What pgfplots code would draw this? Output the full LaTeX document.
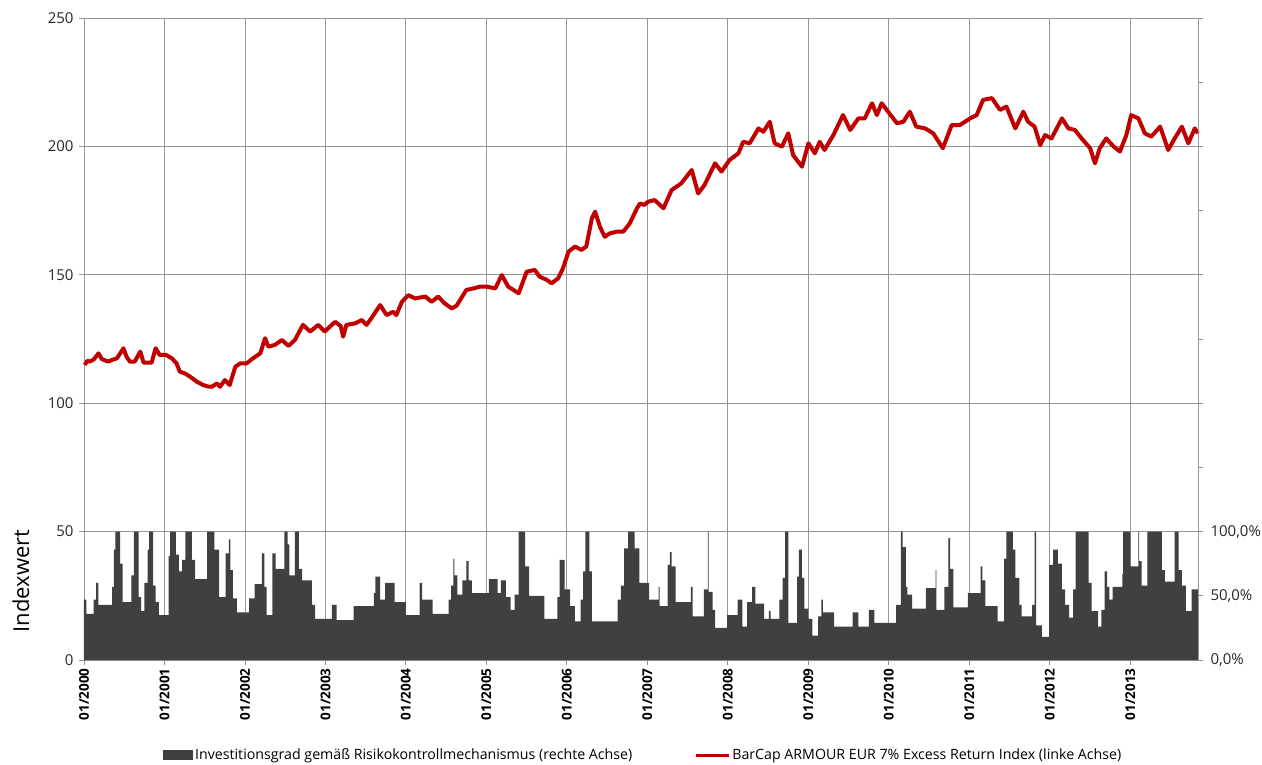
\documentclass[border=0pt]{standalone}
\usepackage{fontspec}
\setmainfont{Open Sans}
\usepackage{pgfplots}
\pgfplotsset{compat=1.18}
\definecolor{gridc}{RGB}{150,150,150}
\definecolor{areagray}{RGB}{64,64,64}
\definecolor{linered}{RGB}{192,0,0}
\begin{document}
\begin{tikzpicture}
\begin{axis}[
  at={(0,0)}, anchor=south west,
  width=1114pt, height=642pt, scale only axis, clip=false,
  xmin=2000, xmax=2013.84, ymin=0, ymax=250,
  xtick={2000,...,2013},
  xticklabels={01/2000,01/2001,01/2002,01/2003,01/2004,01/2005,01/2006,01/2007,01/2008,01/2009,01/2010,01/2011,01/2012,01/2013},
  ytick={0,50,100,150,200,250},
  yticklabels={0,50,100,150,200,250},
  xtick pos=bottom, ytick pos=left,
  grid=major, major grid style={gridc, line width=0.9pt},
  axis line style={gridc, line width=0.9pt},
  tick align=outside, major tick length=5pt,
  tick style={gridc, line width=0.9pt},
  xticklabel style={rotate=90, anchor=east, font=\bfseries\fontsize{13.5}{15}\selectfont, text=black},
  yticklabel style={font=\fontsize{15}{17}\selectfont, text=black!85, xshift=-2pt},
]
\addplot[linered, line width=4pt, line join=round] coordinates {
(2000.01,114.9)(2000.04,116.5)(2000.07,116.2)(2000.12,117.0)(2000.18,119.4)(2000.22,117.2)
(2000.30,116.2)(2000.36,117.0)(2000.41,117.5)(2000.49,121.4)(2000.53,118.0)(2000.57,116.2)
(2000.63,116.2)(2000.70,120.1)(2000.74,115.8)(2000.84,115.8)(2000.89,121.4)(2000.94,118.8)
(2001.02,118.8)(2001.09,117.5)(2001.15,115.5)(2001.19,112.3)(2001.26,111.5)(2001.32,110.3)
(2001.40,108.4)(2001.48,107.1)(2001.54,106.5)(2001.59,106.4)(2001.65,107.7)(2001.69,106.4)
(2001.75,109.0)(2001.81,107.1)(2001.88,114.2)(2001.94,115.5)(2002.02,115.5)(2002.10,117.5)
(2002.19,119.4)(2002.25,125.3)(2002.29,122.0)(2002.37,122.7)(2002.46,124.6)(2002.54,122.3)
(2002.62,124.6)(2002.72,130.5)(2002.81,127.9)(2002.91,130.5)(2002.99,127.9)(2003.12,131.7)
(2003.19,130.0)(2003.22,125.9)(2003.26,130.5)(2003.37,131.1)(2003.45,132.4)(2003.51,130.5)
(2003.57,133.1)(2003.68,138.2)(2003.76,134.3)(2003.84,135.6)(2003.88,134.3)(2003.95,139.5)
(2004.03,142.1)(2004.11,140.8)(2004.24,141.5)(2004.32,139.5)(2004.40,141.5)(2004.48,138.9)
(2004.57,136.9)(2004.63,138.0)(2004.75,144.1)(2004.84,144.7)(2004.92,145.4)(2005.00,145.4)
(2005.11,144.7)(2005.19,149.9)(2005.27,145.4)(2005.40,142.8)(2005.50,151.2)(2005.60,151.9)
(2005.66,149.3)(2005.75,148.0)(2005.81,146.7)(2005.89,148.6)(2005.95,152.5)(2006.02,159.0)
(2006.10,161.0)(2006.18,159.7)(2006.24,161.0)(2006.31,172.0)(2006.35,174.6)(2006.41,168.7)
(2006.47,164.8)(2006.53,166.1)(2006.62,166.8)(2006.70,166.8)(2006.78,170.0)(2006.87,175.9)
(2006.91,177.8)(2006.96,177.2)(2007.01,178.5)(2007.09,179.1)(2007.20,175.9)(2007.30,183.0)
(2007.42,185.6)(2007.55,190.8)(2007.63,181.7)(2007.71,185.0)(2007.84,193.4)(2007.92,190.2)
(2008.02,194.7)(2008.13,197.3)(2008.19,201.8)(2008.27,201.2)(2008.38,207.0)(2008.44,205.7)
(2008.52,209.6)(2008.58,201.2)(2008.67,199.9)(2008.75,205.1)(2008.81,196.6)(2008.92,192.1)
(2009.00,201.2)(2009.08,197.3)(2009.14,201.8)(2009.20,198.6)(2009.31,204.4)(2009.43,212.2)
(2009.52,206.4)(2009.62,210.9)(2009.70,210.9)(2009.79,216.8)(2009.85,212.2)(2009.91,216.8)
(2009.99,213.5)(2010.10,209.0)(2010.18,209.6)(2010.26,213.5)(2010.34,207.7)(2010.45,207.0)
(2010.55,205.1)(2010.67,199.3)(2010.78,208.3)(2010.88,208.3)(2011.01,210.9)(2011.09,212.2)
(2011.17,218.1)(2011.28,218.8)(2011.38,214.2)(2011.46,215.5)(2011.57,207.0)(2011.67,213.5)
(2011.73,209.6)(2011.81,207.7)(2011.88,200.5)(2011.94,204.4)(2012.02,203.1)(2012.15,210.9)
(2012.23,207.0)(2012.31,206.4)(2012.41,202.5)(2012.50,199.3)(2012.56,193.4)(2012.62,199.3)
(2012.70,203.1)(2012.79,200.0)(2012.87,198.0)(2012.95,204.4)(2013.01,212.2)(2013.10,210.9)
(2013.18,205.1)(2013.26,203.8)(2013.37,207.7)(2013.47,198.6)(2013.55,203.1)(2013.64,207.7)
(2013.72,201.2)(2013.80,207.0)(2013.84,205.1)
};
\node[rotate=90, font=\fontsize{22}{25}\selectfont, text=black] at ([xshift=-63pt]rel axis cs:0,0.123) {Indexwert};
\end{axis}
\begin{axis}[
  at={(0,0)}, anchor=south west,
  width=1114pt, height=642pt, scale only axis,
  xmin=2000, xmax=2013.84, ymin=0, ymax=500,
  axis x line=none, axis y line*=right,
  ytick={0,50,...,500},
  yticklabels={{0,0\%},{50,0\%},{100,0\%},{},{},{},{},{},{},{},{}},
  axis line style={gridc, line width=0.9pt},
  tick align=outside, major tick length=5pt,
  tick style={gridc, line width=0.9pt},
  yticklabel style={font=\fontsize{15}{17}\selectfont, text=black!85, xshift=4pt},
  legend columns=2,
  legend style={at={(0.502,-0.148)}, anchor=center, draw=none, fill=none,
    font=\fontsize{14.2}{16}\selectfont,
    /tikz/every even column/.append style={column sep=60pt}},
]
\addplot[fill=areagray, draw=none, const plot,
  legend image code/.code={\fill[areagray] (0pt,-4.5pt) rectangle (30pt,5pt);}] table {
x y
2000.00 47
2000.03 36
2000.12 47
2000.15 60
2000.18 43
2000.35 57
2000.37 86
2000.39 100
2000.45 75
2000.48 45
2000.59 66
2000.62 100
2000.68 49
2000.71 38
2000.75 60
2000.79 86
2000.81 100
2000.86 58
2000.89 45
2000.93 35
2001.05 81
2001.07 100
2001.14 82
2001.18 69
2001.22 78
2001.26 100
2001.34 78
2001.38 63
2001.53 100
2001.62 86
2001.68 49
2001.76 83
2001.80 94
2001.82 70
2001.85 48
2001.90 37
2002.05 48
2002.12 59
2002.21 83
2002.24 57
2002.27 35
2002.34 83
2002.38 71
2002.49 100
2002.53 90
2002.55 66
2002.62 100
2002.67 71
2002.71 62
2002.83 43
2002.87 32
2003.08 43
2003.14 31
2003.35 42
2003.60 52
2003.62 65
2003.68 47
2003.74 60
2003.86 45
2004.00 35
2004.17 60
2004.20 47
2004.33 36
2004.53 47
2004.56 58
2004.59 79
2004.60 66
2004.64 51
2004.70 62
2004.75 77
2004.78 62
2004.82 52
2005.03 63
2005.14 52
2005.18 62
2005.24 49
2005.30 39
2005.35 51
2005.40 100
2005.48 73
2005.53 50
2005.72 32
2005.88 49
2005.91 78
2005.97 55
2006.04 42
2006.10 30
2006.17 47
2006.20 69
2006.23 100
2006.28 69
2006.31 30
2006.63 47
2006.67 58
2006.71 87
2006.76 100
2006.84 87
2006.90 60
2007.02 47
2007.14 57
2007.15 42
2007.25 74
2007.28 84
2007.30 73
2007.35 45
2007.54 57
2007.56 34
2007.70 55
2007.75 100
2007.76 53
2007.81 39
2007.84 25
2007.99 35
2008.12 47
2008.18 26
2008.24 45
2008.30 57
2008.34 44
2008.45 32
2008.51 38
2008.53 32
2008.64 47
2008.68 64
2008.71 100
2008.75 29
2008.86 65
2008.88 86
2008.92 64
2008.95 40
2009.00 32
2009.05 19
2009.12 34
2009.16 47
2009.18 37
2009.32 26
2009.55 37
2009.62 26
2009.75 39
2009.82 29
2010.09 43
2010.15 100
2010.17 88
2010.21 57
2010.23 51
2010.29 40
2010.46 56
2010.58 70
2010.59 39
2010.69 57
2010.74 95
2010.76 71
2010.80 41
2010.98 52
2011.14 73
2011.16 62
2011.20 42
2011.35 30
2011.43 79
2011.46 100
2011.54 86
2011.57 64
2011.62 43
2011.65 34
2011.78 43
2011.81 100
2011.83 27
2011.90 18
2011.99 74
2012.04 86
2012.10 75
2012.15 55
2012.19 43
2012.24 33
2012.29 55
2012.32 100
2012.48 60
2012.52 38
2012.60 26
2012.64 39
2012.68 69
2012.71 57
2012.74 47
2012.78 57
2012.90 67
2012.91 100
2013.00 73
2013.10 100
2013.11 77
2013.14 58
2013.21 100
2013.39 70
2013.43 61
2013.55 100
2013.60 70
2013.64 58
2013.69 38
2013.76 55
2013.84 55
} \closedcycle;
\addlegendentry{Investitionsgrad gemäß Risikokontrollmechanismus (rechte Achse)}
\addlegendimage{legend image code/.code={\draw[linered, line width=3pt] (0pt,0pt) -- (33pt,0pt);}}
\addlegendentry{BarCap ARMOUR EUR 7\% Excess Return Index (linke Achse)}
\end{axis}
\pgfresetboundingbox
\useasboundingbox (-84pt,-104pt) rectangle (1178pt,660pt);
\end{tikzpicture}
\end{document}
